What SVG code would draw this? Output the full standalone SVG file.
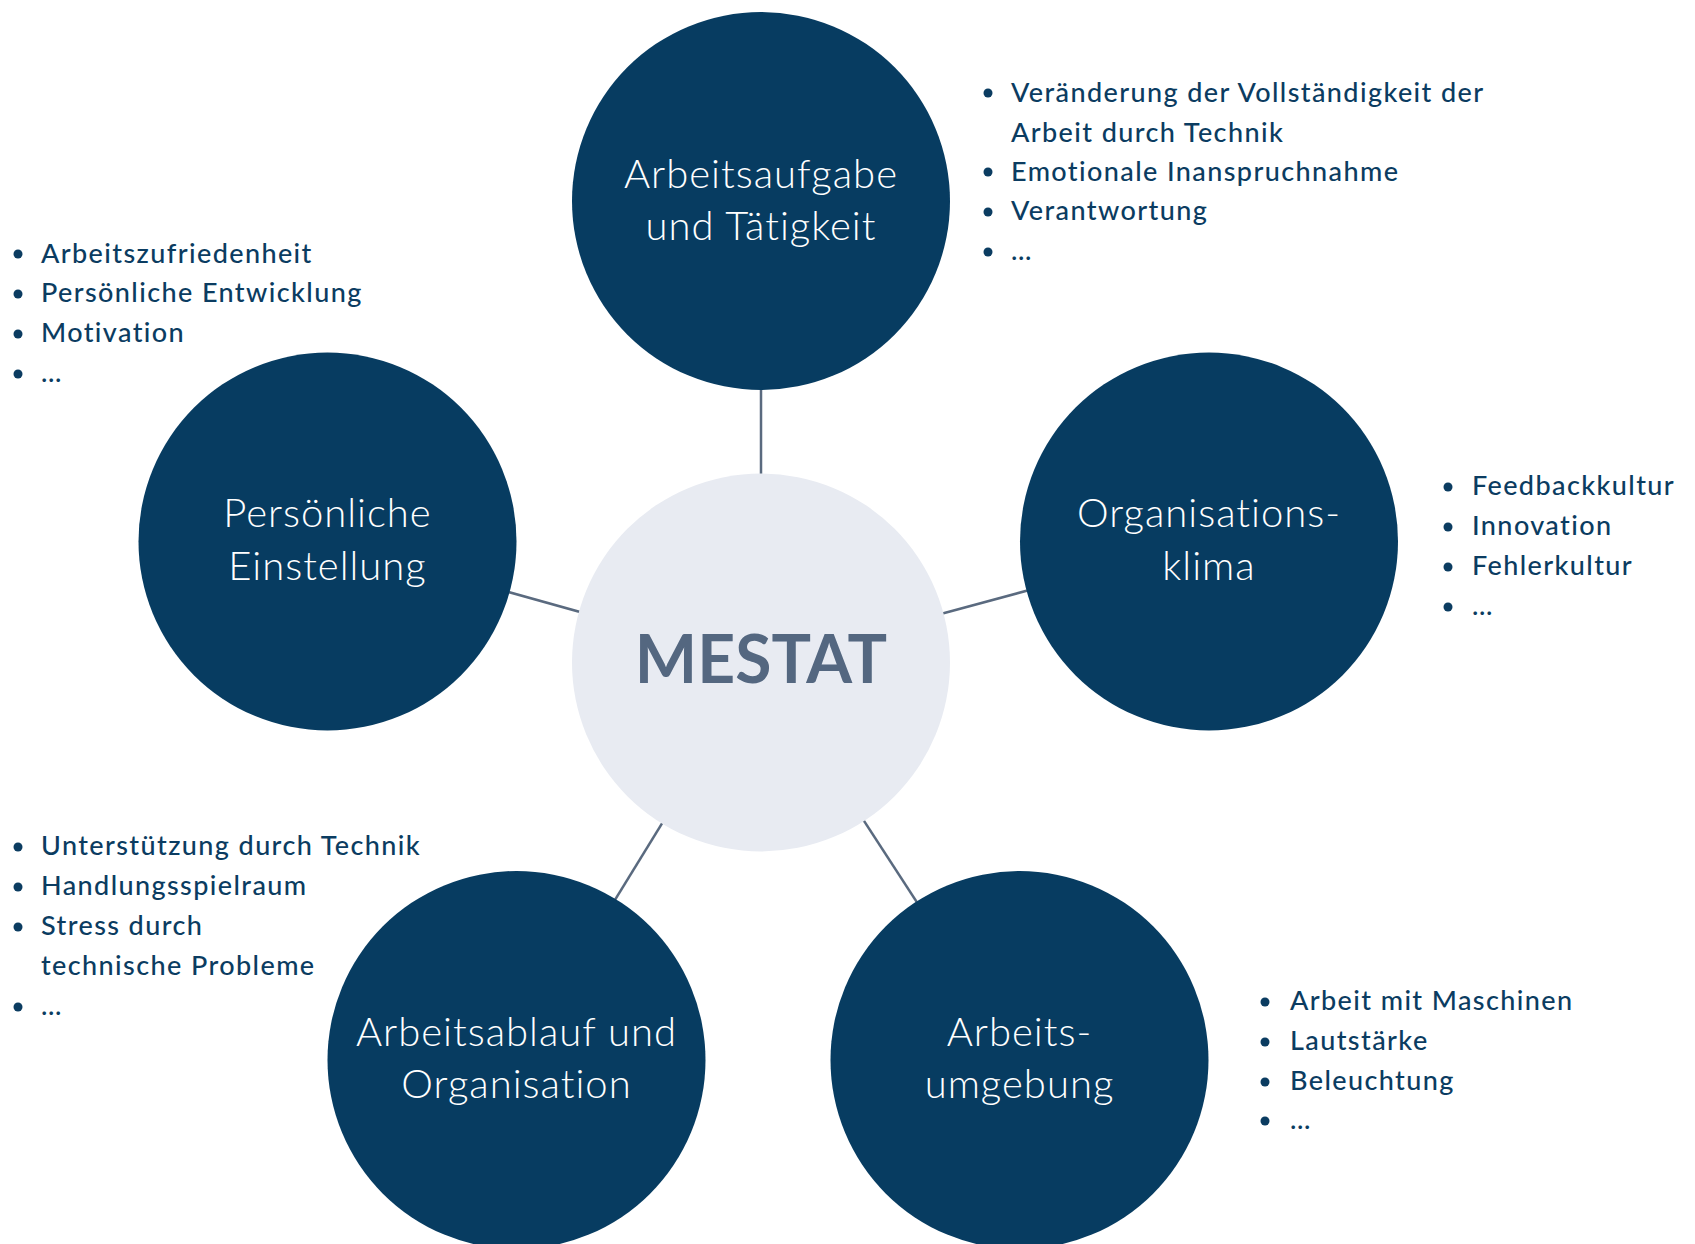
<svg xmlns="http://www.w3.org/2000/svg" width="1695" height="1244" viewBox="0 0 1695 1244">
  <style>
    .node { fill: #073c61; }
    .hub { fill: #e8ebf2; }
    .label { font-family: Lato, "Noto Sans", "Liberation Sans", sans-serif; font-weight: 300; font-size: 40px; letter-spacing: 1px; fill: #ffffff; text-anchor: middle; }
    .hub-label { font-family: Lato, "Noto Sans", "Liberation Sans", sans-serif; font-weight: 700; font-size: 66px; fill: #546780; text-anchor: middle; }
    .list { font-family: Lato, "Noto Sans", "Liberation Sans", sans-serif; font-weight: 500; font-size: 27px; letter-spacing: 1.4px; fill: #0b3c61; }
    .dot { fill: #0b3c61; }
    .link { stroke: #5a6a7f; stroke-width: 2.5; fill: none; }
  </style>
  <defs>
    <circle id="bullet" r="4.5" class="dot"/>
  </defs>
  <rect width="1695" height="1244" fill="#ffffff"/>

  <!-- spokes from the hub to each factor -->
  <g id="connectors">
    <line class="link" x1="761" y1="662.5" x2="761" y2="201"/>
    <line class="link" x1="761" y1="662.5" x2="327.5" y2="541.5"/>
    <line class="link" x1="761" y1="662.5" x2="1209" y2="541.5"/>
    <line class="link" x1="761" y1="662.5" x2="516.5" y2="1060"/>
    <line class="link" x1="761" y1="662.5" x2="1019.5" y2="1060"/>
  </g>

  <g id="hub">
    <circle class="hub" cx="761" cy="662.5" r="189"/>
    <text class="hub-label" x="761" y="683">MESTAT</text>
  </g>

  <g id="node-arbeitsaufgabe">
    <circle class="node" cx="761" cy="201" r="189"/>
    <text class="label" x="761" y="188">Arbeitsaufgabe</text>
    <text class="label" x="761" y="240">und Tätigkeit</text>
  </g>

  <g id="node-einstellung">
    <circle class="node" cx="327.5" cy="541.5" r="189"/>
    <text class="label" x="327.5" y="527">Persönliche</text>
    <text class="label" x="327.5" y="580">Einstellung</text>
  </g>

  <g id="node-klima">
    <circle class="node" cx="1209" cy="541.5" r="189"/>
    <text class="label" x="1209" y="527">Organisations-</text>
    <text class="label" x="1209" y="580">klima</text>
  </g>

  <g id="node-ablauf">
    <circle class="node" cx="516.5" cy="1060" r="189"/>
    <text class="label" x="516.5" y="1046">Arbeitsablauf und</text>
    <text class="label" x="516.5" y="1098">Organisation</text>
  </g>

  <g id="node-umgebung">
    <circle class="node" cx="1019.5" cy="1060" r="189"/>
    <text class="label" x="1019.5" y="1046">Arbeits-</text>
    <text class="label" x="1019.5" y="1098">umgebung</text>
  </g>

  <!-- bullet lists -->
  <g id="list-arbeitsaufgabe">
    <use href="#bullet" x="988" y="93"/>
    <use href="#bullet" x="988" y="172"/>
    <use href="#bullet" x="988" y="212"/>
    <use href="#bullet" x="988" y="252"/>
    <text class="list" x="1011" y="102">Veränderung der Vollständigkeit der</text>
    <text class="list" x="1011" y="142">Arbeit durch Technik</text>
    <text class="list" x="1011" y="181">Emotionale Inanspruchnahme</text>
    <text class="list" x="1011" y="220">Verantwortung</text>
    <text class="list" x="1011" y="260">…</text>
  </g>

  <g id="list-einstellung">
    <use href="#bullet" x="18" y="254"/>
    <use href="#bullet" x="18" y="294"/>
    <use href="#bullet" x="18" y="334"/>
    <use href="#bullet" x="18" y="374"/>
    <text class="list" x="41" y="263">Arbeitszufriedenheit</text>
    <text class="list" x="41" y="302">Persönliche Entwicklung</text>
    <text class="list" x="41" y="342">Motivation</text>
    <text class="list" x="41" y="382">…</text>
  </g>

  <g id="list-klima">
    <use href="#bullet" x="1448" y="487"/>
    <use href="#bullet" x="1448" y="527"/>
    <use href="#bullet" x="1448" y="567"/>
    <use href="#bullet" x="1448" y="607"/>
    <text class="list" x="1472" y="495">Feedbackkultur</text>
    <text class="list" x="1472" y="535">Innovation</text>
    <text class="list" x="1472" y="575">Fehlerkultur</text>
    <text class="list" x="1472" y="615">…</text>
  </g>

  <g id="list-ablauf">
    <use href="#bullet" x="18" y="847"/>
    <use href="#bullet" x="18" y="887"/>
    <use href="#bullet" x="18" y="927"/>
    <use href="#bullet" x="18" y="1007"/>
    <text class="list" x="41" y="855">Unterstützung durch Technik</text>
    <text class="list" x="41" y="895">Handlungsspielraum</text>
    <text class="list" x="41" y="935">Stress durch</text>
    <text class="list" x="41" y="975">technische Probleme</text>
    <text class="list" x="41" y="1015">…</text>
  </g>

  <g id="list-umgebung">
    <use href="#bullet" x="1265" y="1002"/>
    <use href="#bullet" x="1265" y="1042"/>
    <use href="#bullet" x="1265" y="1082"/>
    <use href="#bullet" x="1265" y="1121"/>
    <text class="list" x="1290" y="1010">Arbeit mit Maschinen</text>
    <text class="list" x="1290" y="1050">Lautstärke</text>
    <text class="list" x="1290" y="1090">Beleuchtung</text>
    <text class="list" x="1290" y="1129">…</text>
  </g>
</svg>
